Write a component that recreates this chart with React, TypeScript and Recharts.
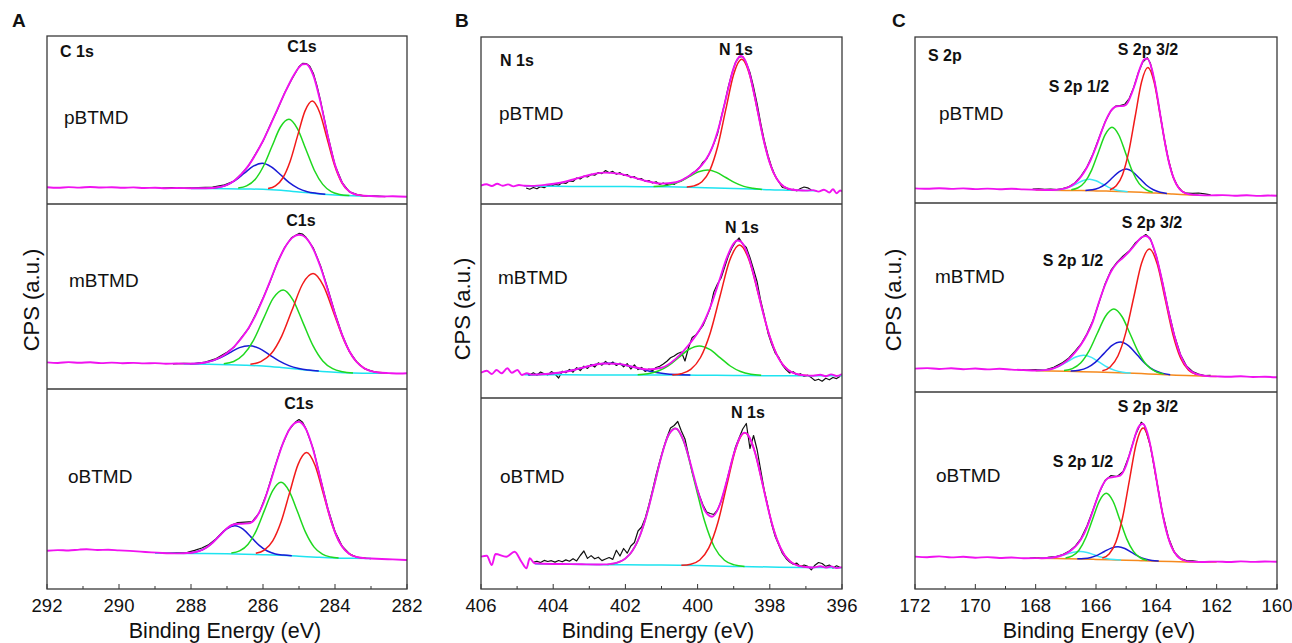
import React from 'react';
import { LineChart, Line, XAxis, YAxis } from 'recharts';

type Pt = [number, number];

const FONT = '"Liberation Sans", Arial, Helvetica, sans-serif';

// tick values of the three energy axes
const cTicks = [292, 291, 290, 289, 288, 287, 286, 285, 284, 283, 282];
const nTicks = [406, 405, 404, 403, 402, 401, 400, 399, 398, 397, 396];
const sTicks = [172, 171, 170, 169, 168, 167, 166, 165, 164, 163, 162, 161, 160];

// ---------- C 1s, pBTMD ----------
const cP_fit: Pt[] = [[292,16.8],[291.7,16.2],[291.4,16.9],[291.1,16.4],[290.8,17.0],[290.5,16.5],[290.2,16.8],[289.9,16.2],[289.6,16.6],[289.3,16.0],[289.0,16.3],[288.7,15.8],[288.4,16.0],[288.0,15.7],[287.6,15.7],[287.2,17.0],[287.0,19.2],[286.8,23.3],[286.6,29.8],[286.4,38.6],[286.2,49.9],[286.0,63.2],[285.8,78.4],[285.6,94.7],[285.4,110.6],[285.2,125.3],[285.0,136.7],[284.9,139.8],[284.8,139.9],[284.7,136.3],[284.6,128.4],[284.4,101.4],[284.2,67.9],[284.0,39.2],[283.8,21.1],[283.6,12.4],[283.4,9.3],[283.2,8.3],[283.0,8.0],[282.7,7.5],[282.4,7.8],[282,7.2]];
const cP_raw: Pt[] = [[288.8,16.0],[288.5,16.4],[288.2,15.9],[287.8,16.3],[287.4,16.8],[287.1,18.8],[286.8,23.0],[286.6,30.2],[286.4,38.2],[286.2,50.4],[286.0,62.8],[285.8,78.9],[285.6,94.2],[285.4,111.0],[285.2,124.8],[285.0,137.2],[284.9,140.6],[284.8,140.4],[284.7,137.8],[284.6,130.5],[284.5,118.0],[284.4,103.0],[284.2,68.6],[284.0,38.8],[283.8,21.4],[283.6,12.2],[283.4,9.6],[283.2,8.1],[283.0,8.2],[282.8,7.9],[282.6,7.4]];
const cP_bg: Pt[] = [[288.0,15.6],[287.5,15.5],[287.0,15.3],[286.5,15.0],[286.0,14.7],[285.5,13.7],[285.0,12.0],[284.5,10.3],[284.0,9.0],[283.5,8.3],[283.0,8.0]];
const cP_blue: Pt[] = [[287.52,15.8],[287.27,16.5],[287.02,18.8],[286.77,23.6],[286.52,30.8],[286.27,37.8],[286.02,40.7],[285.77,37.1],[285.52,29.5],[285.27,21.3],[285.02,15.6],[284.77,12.3],[284.52,10.7],[284.27,9.7]];
const cP_green: Pt[] = [[286.69,15.9],[286.455,18.1],[286.22,24.5],[285.985,38.0],[285.75,57.7],[285.515,77.0],[285.28,84.7],[285.045,75.4],[284.81,54.8],[284.575,33.8],[284.34,19.6],[284.105,12.4],[283.87,9.6],[283.6,8.5]];
const cP_red: Pt[] = [[285.86,15.4],[285.655,18.1],[285.45,26.0],[285.245,42.8],[285.04,68.1],[284.835,92.9],[284.63,103.0],[284.425,91.6],[284.22,65.5],[284.015,39.0],[283.81,21.2],[283.605,12.5],[283.4,9.2],[283.1,8.1]];

// ---------- C 1s, mBTMD ----------
const cM_fit: Pt[] = [[292,26.6],[291.7,26.0],[291.4,26.9],[291.1,26.2],[290.8,26.7],[290.5,25.9],[290.2,26.4],[289.9,25.8],[289.6,26.1],[289.3,25.6],[289.0,25.9],[288.7,25.3],[288.4,25.5],[288.0,25.3],[287.6,26.5],[287.2,31.5],[287.0,36.1],[286.8,42.4],[286.6,50.8],[286.4,61.0],[286.2,74.2],[286.0,90.3],[285.8,108.2],[285.6,126.1],[285.4,141.0],[285.2,150.9],[285.0,154.3],[284.9,153.5],[284.8,150.8],[284.6,139.6],[284.4,121.7],[284.2,98.9],[284.0,75.0],[283.8,53.9],[283.6,37.7],[283.4,27.0],[283.2,21.0],[283.0,17.9],[282.8,16.5],[282.5,15.9],[282.2,15.5],[282,15.7]];
const cM_raw: Pt[] = [[288.5,25.2],[288.2,25.6],[287.9,25.4],[287.6,26.9],[287.3,30.5],[287.0,36.8],[286.8,42.0],[286.6,51.5],[286.4,60.6],[286.2,75.0],[286.0,90.8],[285.8,107.6],[285.6,126.8],[285.4,141.5],[285.2,151.6],[285.0,155.6],[284.9,154.8],[284.8,151.5],[284.6,140.8],[284.4,123.0],[284.2,100.2],[284.0,75.8],[283.8,54.3],[283.6,37.3],[283.4,27.4],[283.2,20.6],[283.0,18.1],[282.8,16.2],[282.6,15.8]];
const cM_bg: Pt[] = [[288.2,25.0],[287.5,24.7],[287.0,24.3],[286.5,23.8],[286.0,23.0],[285.5,21.5],[285.0,19.7],[284.5,18.0],[284.0,16.7],[283.5,16.0],[283.0,15.8],[282.6,15.7]];
const cM_blue: Pt[] = [[288.03,25.2],[287.755,25.7],[287.48,27.4],[287.205,30.9],[286.93,36.1],[286.655,41.4],[286.38,43.3],[286.105,40.6],[285.83,34.4],[285.555,28.1],[285.28,23.4],[285.005,20.6],[284.73,19.0],[284.45,17.9]];
const cM_green: Pt[] = [[287.09,25.3],[286.815,27.5],[286.54,34.4],[286.265,48.6],[285.99,70.1],[285.715,90.8],[285.44,99.0],[285.165,88.9],[284.89,66.4],[284.615,43.6],[284.34,28.1],[284.065,20.3],[283.79,17.3],[283.5,16.1]];
const cM_red: Pt[] = [[286.35,24.7],[286.06,27.4],[285.77,35.4],[285.48,52.9],[285.19,79.2],[284.9,105.0],[284.61,115.4],[284.32,103.1],[284.03,75.6],[283.74,47.9],[283.45,29.1],[283.16,20.2],[282.87,16.9],[282.6,15.9]];

// ---------- C 1s, oBTMD ----------
const cO_fit: Pt[] = [[292,38.3],[291.7,38.9],[291.4,38.5],[291.1,39.4],[290.9,39.7],[290.6,39.0],[290.3,39.3],[290.0,38.6],[289.7,38.1],[289.4,37.4],[289.1,36.6],[288.8,36.0],[288.4,35.6],[288.0,36.2],[287.8,37.6],[287.6,40.8],[287.4,46.3],[287.2,53.6],[287.0,60.7],[286.8,64.7],[286.6,65.3],[286.4,65.6],[286.2,70.9],[286.0,84.8],[285.8,106.0],[285.6,129.5],[285.4,149.8],[285.2,163.2],[285.0,167.3],[284.9,165.0],[284.8,159.3],[284.6,138.6],[284.4,109.5],[284.2,80.0],[284.0,56.7],[283.8,42.2],[283.6,35.0],[283.4,32.0],[283.2,30.9],[283.0,30.5],[282.7,30.0],[282.4,29.6],[282,29.0]];
const cO_raw: Pt[] = [[289.0,36.4],[288.7,35.9],[288.4,36.3],[288.1,36.6],[287.9,38.6],[287.7,41.0],[287.5,44.5],[287.3,50.4],[287.1,57.8],[286.9,63.4],[286.7,66.4],[286.5,66.8],[286.3,67.3],[286.1,76.5],[285.9,95.4],[285.7,118.8],[285.5,141.0],[285.3,157.8],[285.1,167.0],[285.0,169.5],[284.9,166.8],[284.8,159.8],[284.6,139.6],[284.4,110.2],[284.2,80.8],[284.0,57.5],[283.8,42.8],[283.6,35.3],[283.4,31.7],[283.2,31.0],[283.0,30.4]];
const cO_bg: Pt[] = [[289.0,35.8],[288.0,35.5],[287.0,35.2],[286.5,34.8],[286.0,34.3],[285.5,33.7],[285.0,32.8],[284.5,31.8],[284.0,31.0],[283.5,30.7],[283.0,30.5]];
const cO_blue: Pt[] = [[288.13,35.8],[287.905,36.7],[287.68,39.2],[287.455,44.5],[287.23,52.3],[287.005,60.2],[286.78,63.3],[286.555,59.9],[286.33,51.9],[286.105,43.6],[285.88,38.0],[285.655,35.1],[285.43,33.9],[285.2,33.2]];
const cO_green: Pt[] = [[286.88,35.9],[286.65,38.1],[286.42,44.6],[286.19,58.2],[285.96,78.6],[285.73,98.4],[285.5,106.7],[285.27,97.7],[285.04,77.2],[284.81,56.1],[284.58,41.9],[284.35,34.8],[284.12,32.0],[283.9,31.1]];
const cO_red: Pt[] = [[286.2,35.7],[285.965,38.8],[285.73,48.1],[285.495,67.5],[285.26,96.4],[285.025,124.6],[284.79,136.4],[284.555,123.7],[284.32,94.6],[284.085,65.0],[283.85,45.0],[283.615,35.4],[283.38,31.9],[283.15,30.8]];

// ---------- N 1s, pBTMD ----------
const nP_fit: Pt[] = [[406,18.5],[405.85,19.8],[405.7,18.0],[405.55,20.2],[405.4,18.3],[405.25,19.6],[405.1,17.6],[404.95,19.0],[404.8,18.2],[404.6,18.1],[404.2,19.2],[403.8,21.3],[403.4,25.0],[403.0,29.0],[402.6,31.35],[402.2,30.4],[401.8,26.85],[401.4,22.8],[401.0,20.35],[400.6,21.75],[400.2,28.95],[400.0,34.5],[399.8,42.7],[399.6,56.1],[399.4,78.2],[399.2,108.1],[399.0,136.1],[398.9,144.65],[398.8,148.0],[398.7,144.7],[398.6,135.6],[398.4,104.4],[398.2,68.8],[398.0,41.0],[397.8,24.7],[397.6,17.2],[397.4,14.45],[397.2,13.7],[397.0,13.4],[396.8,13.9],[396.65,12.4],[396.5,14.3],[396.35,11.5],[396.25,14.8],[396.15,10.8],[396.05,13.5],[396,12.6]];
const nP_raw: Pt[] = [[404.75,16.0],[404.65,14.8],[404.55,16.5],[404.45,15.2],[404.35,17.4],[404.25,16.3],[404.15,18.6],[404.05,17.9],[403.95,19.6],[403.85,18.8],[403.75,21.4],[403.65,20.6],[403.55,23.2],[403.45,22.5],[403.35,26.0],[403.25,25.1],[403.15,27.8],[403.05,27.0],[402.95,29.6],[402.85,28.8],[402.75,31.5],[402.65,30.4],[402.55,33.5],[402.45,31.2],[402.35,32.6],[402.25,29.8],[402.15,31.4],[402.05,28.6],[401.95,29.5],[401.85,26.4],[401.75,27.3],[401.65,24.8],[401.55,25.4],[401.45,22.6],[401.35,23.5],[401.25,21.0],[401.15,22.3],[401.05,19.6],[400.95,21.0],[400.85,19.2],[400.75,20.8],[400.65,19.5],[400.55,22.4],[400.45,23.0],[400.35,25.6],[400.25,27.3],[400.15,30.8],[400.05,33.0],[399.95,36.5],[399.85,41.8],[399.75,45.0],[399.65,52.0],[399.55,60.4],[399.45,70.0],[399.35,86.0],[399.25,100.5],[399.15,117.0],[399.05,130.5],[398.95,141.5],[398.85,146.8],[398.75,147.5],[398.65,141.0],[398.55,131.5],[398.45,117.0],[398.35,100.0],[398.25,80.5],[398.15,63.0],[398.05,48.5],[397.95,37.0],[397.85,28.0],[397.75,22.0],[397.65,16.5],[397.55,15.8],[397.45,13.6],[397.35,14.8],[397.25,13.2],[397.15,15.5],[397.05,17.0],[396.95,16.2],[396.85,14.0]];
const nP_bg: Pt[] = [[404.8,17.7],[404.0,17.7],[403.0,17.5],[402.0,17.4],[401.0,17.3],[400.5,17.1],[400.0,16.6],[399.5,16.0],[399.0,15.6],[398.5,15.0],[398.0,14.2],[397.5,13.8],[397.0,13.4],[396.7,13.3]];
const nP_green: Pt[] = [[401.22,17.5],[400.97,18.0],[400.72,19.6],[400.47,22.8],[400.22,27.6],[399.97,32.2],[399.72,34.0],[399.47,31.6],[399.22,26.5],[398.97,21.3],[398.72,17.6],[398.47,15.8],[398.22,14.6]];
const nP_red: Pt[] = [[400.3,17.0],[400.1,18.1],[399.88,22.2],[399.66,33.8],[399.44,58.0],[399.22,94.3],[399.0,129.8],[398.78,144.7],[398.56,129.3],[398.34,93.1],[398.12,56.2],[397.9,31.2],[397.68,19.3],[397.46,14.9],[397.25,13.6]];

// ---------- N 1s, mBTMD ----------
const nM_fit: Pt[] = [[406,25.3],[405.84,27.3],[405.7,24.0],[405.57,28.0],[405.43,24.7],[405.27,29.7],[405.15,25.3],[404.99,28.0],[404.87,23.0],[404.73,24.7],[404.6,23.4],[404.2,23.95],[403.8,25.45],[403.4,28.3],[403.0,32.0],[402.6,34.55],[402.2,34.15],[401.8,31.25],[401.4,28.6],[401.0,30.2],[400.6,39.4],[400.2,55.25],[400.0,65.0],[399.8,77.95],[399.6,95.5],[399.4,117.2],[399.2,139.35],[399.0,154.7],[398.9,157.55],[398.8,156.35],[398.6,142.4],[398.4,116.75],[398.2,87.2],[398.0,61.2],[397.8,42.7],[397.6,31.55],[397.4,25.95],[397.2,23.5],[397.0,22.6],[396.8,22.3],[396.6,23.2],[396.45,21.8],[396.3,23.6],[396.15,22.0],[396,24.0]];
const nM_raw: Pt[] = [[404.75,24.2],[404.65,23.0],[404.55,25.2],[404.45,22.8],[404.35,26.0],[404.25,24.3],[404.15,23.1],[404.05,26.4],[403.95,24.0],[403.85,20.0],[403.75,26.8],[403.65,25.3],[403.55,28.6],[403.45,25.8],[403.35,30.4],[403.25,27.5],[403.15,31.8],[403.05,29.6],[402.95,33.5],[402.85,31.0],[402.75,35.2],[402.65,32.8],[402.55,36.6],[402.45,33.4],[402.35,36.0],[402.25,32.5],[402.15,34.8],[402.05,31.2],[401.95,34.4],[401.85,29.0],[401.75,33.2],[401.65,28.4],[401.55,30.6],[401.45,26.5],[401.35,29.0],[401.25,27.2],[401.15,30.5],[401.05,31.8],[400.95,34.0],[400.85,36.8],[400.75,40.2],[400.65,42.0],[400.55,44.5],[400.45,46.0],[400.35,37.0],[400.25,50.5],[400.15,60.5],[400.05,63.0],[399.95,67.5],[399.85,72.5],[399.75,81.0],[399.65,90.0],[399.55,106.0],[399.45,114.0],[399.35,120.0],[399.25,131.0],[399.15,142.0],[399.05,150.0],[398.95,156.0],[398.85,160.0],[398.75,154.0],[398.65,150.5],[398.55,140.5],[398.45,128.5],[398.35,116.0],[398.25,97.0],[398.15,82.0],[398.05,65.0],[397.95,54.0],[397.85,45.0],[397.75,40.5],[397.65,33.0],[397.55,28.5],[397.45,25.0],[397.35,26.2],[397.25,23.0],[397.15,24.3],[397.05,21.6],[396.95,22.8],[396.85,20.4],[396.75,17.5],[396.65,18.8],[396.55,16.8],[396.45,19.8],[396.35,18.2],[396.25,20.5],[396.15,19.4],[396.05,21.8]];
const nM_bg: Pt[] = [[404.8,23.2],[403.0,23.1],[401.0,23.0],[400.0,22.8],[399.0,22.5],[398.0,22.3],[397.0,22.2],[396.0,22.2]];
const nM_blue: Pt[] = [[404.7,23.3],[404.325,23.65],[403.95,24.75],[403.575,26.9],[403.2,30.2],[402.825,33.4],[402.45,34.8],[402.075,33.35],[401.7,30.15],[401.325,26.8],[400.95,24.6],[400.575,23.4],[400.2,22.95]];
const nM_green: Pt[] = [[401.66,23.35],[401.375,24.3],[401.09,27.0],[400.805,32.45],[400.52,40.7],[400.235,48.75],[399.95,52.1],[399.665,48.6],[399.38,40.4],[399.095,32.0],[398.81,26.45],[398.525,23.7],[398.24,22.65]];
const nM_red: Pt[] = [[400.7,23.0],[400.46,24.3],[400.19,28.55],[399.92,40.5],[399.65,65.1],[399.38,101.7],[399.11,137.7],[398.84,152.95],[398.57,137.6],[398.3,101.45],[398.03,64.7],[397.76,40.0],[397.49,27.95],[397.22,23.6],[396.95,22.4]];

// ---------- N 1s, oBTMD ----------
const nO_fit: Pt[] = [[406,32.3],[405.84,33.3],[405.7,24.0],[405.6,35.0],[405.3,32.3],[405.07,37.3],[404.88,27.3],[404.74,20.7],[404.65,30.7],[404.52,25.7],[404.3,25.2],[403.8,25.0],[403.2,24.7],[402.8,24.55],[402.6,24.6],[402.4,25.15],[402.2,26.6],[402.0,30.4],[401.8,38.45],[401.6,53.0],[401.4,75.4],[401.2,104.05],[401.0,133.1],[400.8,154.4],[400.6,160.5],[400.4,149.5],[400.2,125.8],[400.0,98.8],[399.8,78.5],[399.6,72.3],[399.4,82.9],[399.2,106.95],[399.0,134.7],[398.8,153.55],[398.7,156.4],[398.6,153.9],[398.4,135.3],[398.2,104.9],[398.0,73.6],[397.8,49.3],[397.6,34.25],[397.4,26.55],[397.2,23.2],[397.0,22.0],[396.8,21.5],[396.6,22.8],[396.45,21.4],[396.3,22.6],[396.15,20.9],[396,21.9]];
const nO_raw: Pt[] = [[404.55,26.6],[404.45,27.8],[404.35,26.4],[404.25,28.6],[404.15,27.5],[404.05,28.3],[403.95,26.9],[403.85,28.5],[403.75,27.2],[403.65,29.1],[403.55,27.8],[403.45,30.3],[403.35,28.1],[403.25,33.5],[403.15,38.0],[403.05,30.6],[402.95,33.4],[402.85,30.2],[402.75,31.8],[402.65,28.4],[402.55,30.0],[402.45,31.5],[402.35,29.6],[402.25,38.8],[402.15,33.0],[402.05,40.5],[401.95,35.8],[401.85,43.0],[401.75,46.5],[401.65,58.0],[401.55,62.0],[401.45,71.0],[401.35,84.0],[401.25,98.5],[401.15,114.0],[401.05,127.5],[400.95,140.0],[400.85,151.5],[400.75,161.0],[400.65,163.5],[400.55,167.5],[400.45,158.0],[400.35,150.0],[400.25,133.5],[400.15,117.0],[400.05,104.5],[399.95,93.5],[399.85,84.0],[399.75,77.0],[399.65,75.5],[399.55,74.5],[399.45,79.0],[399.35,87.5],[399.25,99.5],[399.15,114.0],[399.05,128.0],[398.95,142.0],[398.85,151.0],[398.75,160.0],[398.65,165.5],[398.55,140.5],[398.45,153.5],[398.35,139.0],[398.25,118.5],[398.15,98.0],[398.05,82.0],[397.95,65.0],[397.85,52.5],[397.75,44.0],[397.65,35.5],[397.55,30.5],[397.45,27.0],[397.35,24.8],[397.25,25.8],[397.15,22.3],[397.05,24.0],[396.95,22.6],[396.85,19.2],[396.75,23.8],[396.65,26.5],[396.55,25.5],[396.45,22.6],[396.35,24.0],[396.25,21.0],[396.15,23.2],[396.05,21.5]];
const nO_bg: Pt[] = [[404.5,25.0],[404.0,24.8],[403.0,24.5],[402.0,24.2],[401.0,23.9],[400.0,23.4],[399.0,22.6],[398.0,22.0],[397.0,21.6],[396.0,21.3]];
const nO_green: Pt[] = [[402.5,24.4],[402.28,25.8],[402.005,30.2],[401.73,42.6],[401.455,68.55],[401.18,107.05],[400.905,144.75],[400.63,160.7],[400.355,144.45],[400.08,106.55],[399.805,67.75],[399.53,41.5],[399.255,28.8],[398.98,24.1],[398.7,22.6]];
const nO_red: Pt[] = [[400.45,23.7],[400.19,24.85],[399.94,29.05],[399.69,41.1],[399.44,66.3],[399.19,103.85],[398.94,140.6],[398.69,156.15],[398.44,140.3],[398.19,103.2],[397.94,65.4],[397.69,39.95],[397.44,27.7],[397.19,23.2],[396.95,21.9]];

// ---------- S 2p, pBTMD ----------
const sP_fit: Pt[] = [[172,14.6],[171.6,14.2],[171.2,14.8],[170.8,14.1],[170.4,14.6],[170.0,13.9],[169.6,14.4],[169.2,13.8],[168.8,14.2],[168.4,13.6],[168.0,13.3],[167.6,13.0],[167.3,13.2],[167.0,14.8],[166.8,17.6],[166.6,22.65],[166.4,30.55],[166.2,41.5],[166.0,56.1],[165.8,72.9],[165.6,87.35],[165.45,94.25],[165.3,96.8],[165.15,96.9],[165.0,98.4],[164.85,107.0],[164.7,119.65],[164.55,134.05],[164.4,143.7],[164.3,144.35],[164.15,134.15],[164.0,112.3],[163.85,84.6],[163.7,58.0],[163.55,36.7],[163.4,22.8],[163.25,14.7],[163.1,10.7],[162.9,8.7],[162.6,7.85],[162.2,7.6],[161.8,7.9],[161.4,7.3],[161.0,7.7],[160.6,7.1],[160.3,7.5],[160,7.2]];
const sP_raw: Pt[] = [[168.1,13.8],[167.9,14.2],[167.7,13.6],[167.5,13.9],[167.3,13.5],[167.1,14.4],[166.9,16.2],[166.7,20.0],[166.5,26.8],[166.3,36.0],[166.1,49.0],[165.9,65.0],[165.7,81.0],[165.5,92.5],[165.35,96.8],[165.2,97.5],[165.05,98.6],[164.9,104.5],[164.75,115.5],[164.6,130.0],[164.45,141.0],[164.3,145.3],[164.2,140.0],[164.05,120.5],[163.9,94.0],[163.75,66.5],[163.6,43.5],[163.45,26.5],[163.3,17.0],[163.15,11.8],[163.0,9.8],[162.8,9.6],[162.6,10.0],[162.4,9.2],[162.2,8.1]];
const sP_bg: Pt[] = [[168.0,13.0],[167.0,12.6],[166.5,12.4],[166.0,12.1],[165.5,11.8],[165.0,11.3],[164.5,10.7],[164.0,10.0],[163.5,9.0],[163.0,8.2],[162.6,7.9]];
const sP_cyan: Pt[] = [[167.47,12.9],[167.26,13.2],[167.05,14.2],[166.84,16.35],[166.63,19.45],[166.42,22.55],[166.21,23.85],[166.0,22.3],[165.79,19.0],[165.58,15.65],[165.37,13.3],[165.16,12.0],[164.95,11.35]];
const sP_blue: Pt[] = [[166.35,12.6],[166.125,13.2],[165.9,15.15],[165.675,19.2],[165.45,25.45],[165.225,31.45],[165.0,33.9],[164.775,30.9],[164.55,24.45],[164.325,17.75],[164.1,13.25],[163.875,10.75],[163.65,9.6]];
const sP_green: Pt[] = [[166.82,13.25],[166.595,15.25],[166.37,20.9],[166.145,32.9],[165.92,50.85],[165.695,68.3],[165.47,75.7],[165.245,68.0],[165.02,50.1],[164.795,31.75],[164.57,19.4],[164.345,13.3],[164.12,10.85]];
const sP_red: Pt[] = [[165.54,13.25],[165.33,17.15],[165.12,28.35],[164.91,51.8],[164.7,86.75],[164.49,121.0],[164.28,135.4],[164.07,120.4],[163.86,85.5],[163.65,49.9],[163.44,25.8],[163.23,14.05],[163.02,9.6]];

// ---------- S 2p, mBTMD ----------
const sM_fit: Pt[] = [[172,23.4],[171.6,23.9],[171.2,23.0],[170.8,23.7],[170.4,22.8],[170.0,23.5],[169.6,22.6],[169.2,23.2],[168.8,22.4],[168.4,21.9],[168.0,21.5],[167.7,21.9],[167.4,23.7],[167.1,28.25],[166.9,33.05],[166.7,39.35],[166.5,47.25],[166.3,57.45],[166.1,70.7],[165.9,90.0],[165.7,107.0],[165.5,120.5],[165.3,129.0],[165.1,134.5],[164.9,140.5],[164.7,147.5],[164.5,154.5],[164.35,156.0],[164.2,152.5],[164.0,135.5],[163.8,110.0],[163.6,81.0],[163.4,56.0],[163.2,37.0],[163.0,25.5],[162.8,19.8],[162.6,17.3],[162.3,15.9],[162.0,15.6],[161.6,15.3],[161.2,15.7],[160.8,15.0],[160.4,15.2],[160,14.7]];
const sM_raw: Pt[] = [[168.6,22.3],[168.3,21.8],[168.0,22.4],[167.7,22.0],[167.4,24.6],[167.1,29.5],[166.9,34.0],[166.7,40.5],[166.5,47.8],[166.3,58.2],[166.1,71.5],[165.9,89.5],[165.7,108.0],[165.5,121.8],[165.3,129.8],[165.1,136.0],[164.9,141.0],[164.7,149.0],[164.5,154.0],[164.35,157.5],[164.2,153.5],[164.0,136.0],[163.8,110.5],[163.6,81.8],[163.4,56.5],[163.2,37.5],[163.0,26.0],[162.8,20.5],[162.6,18.0],[162.4,16.4],[162.2,16.6]];
const sM_bg: Pt[] = [[168.0,21.3],[167.0,20.7],[166.5,20.3],[166.0,19.9],[165.5,19.5],[165.0,19.0],[164.5,18.4],[164.0,17.7],[163.5,17.0],[163.0,16.4],[162.5,16.0],[162.0,15.6]];
const sM_cyan: Pt[] = [[167.97,21.5],[167.71,21.8],[167.45,23.15],[167.19,26.2],[166.93,30.65],[166.67,35.05],[166.41,36.75],[166.15,34.6],[165.89,29.8],[165.63,25.0],[165.37,21.6],[165.11,19.8],[164.85,19.0]];
const sM_blue: Pt[] = [[166.84,20.9],[166.565,21.75],[166.29,24.35],[166.015,29.9],[165.74,38.4],[165.465,46.65],[165.19,50.0],[164.915,46.1],[164.64,37.25],[164.365,28.2],[164.09,22.0],[163.815,18.85],[163.54,17.35]];
const sM_green: Pt[] = [[167.06,21.4],[166.785,23.35],[166.51,28.9],[166.235,40.8],[165.96,58.45],[165.685,75.75],[165.41,83.0],[165.135,75.25],[164.86,57.45],[164.585,39.2],[164.31,26.7],[164.035,20.55],[163.76,18.05]];
const sM_red: Pt[] = [[165.79,21.15],[165.53,25.0],[165.27,36.2],[165.01,59.6],[164.75,94.5],[164.49,128.7],[164.23,143.0],[163.97,127.95],[163.71,93.1],[163.45,57.55],[163.19,33.5],[162.93,21.85],[162.67,17.55]];

// ---------- S 2p, oBTMD ----------
const sO_fit: Pt[] = [[172,32.4],[171.6,31.8],[171.2,32.6],[170.8,31.6],[170.4,32.2],[170.0,31.3],[169.6,31.9],[169.2,31.0],[168.8,31.5],[168.4,30.8],[168.0,30.9],[167.8,30.75],[167.5,31.2],[167.2,33.0],[167.0,35.4],[166.8,39.2],[166.6,45.25],[166.4,55.0],[166.2,69.65],[166.0,87.3],[165.8,102.85],[165.6,110.95],[165.4,112.1],[165.2,113.4],[165.0,123.7],[164.8,143.3],[164.6,161.6],[164.45,165.25],[164.3,156.5],[164.1,128.2],[163.9,92.4],[163.7,61.95],[163.5,42.4],[163.3,32.7],[163.1,28.75],[162.9,27.35],[162.5,27.0],[162.0,27.4],[161.6,27.0],[161.2,27.6],[160.8,27.1],[160.4,27.5],[160,27.2]];
const sO_raw: Pt[] = [[168.2,30.8],[167.9,31.3],[167.6,31.6],[167.3,32.6],[167.1,34.5],[166.9,37.6],[166.7,42.5],[166.5,50.5],[166.3,63.0],[166.1,79.0],[165.9,96.0],[165.7,108.5],[165.5,113.5],[165.3,112.5],[165.1,117.5],[164.9,133.5],[164.7,153.5],[164.5,166.8],[164.4,164.0],[164.2,143.5],[164.0,110.0],[163.8,76.5],[163.6,51.5],[163.4,36.5],[163.2,30.5],[163.0,28.5],[162.8,28.2],[162.6,27.4]];
const sO_bg: Pt[] = [[168.0,30.8],[167.0,30.3],[166.5,30.0],[166.0,29.6],[165.5,29.2],[165.0,28.8],[164.5,28.3],[164.0,27.8],[163.5,27.4],[163.0,27.1],[162.5,27.0],[162.0,27.0]];
const sO_cyan: Pt[] = [[167.87,30.8],[167.645,30.9],[167.42,31.5],[167.195,32.9],[166.97,34.85],[166.745,36.85],[166.52,37.6],[166.295,36.55],[166.07,34.25],[165.845,32.0],[165.62,30.3],[165.395,29.4],[165.17,29.05]];
const sO_blue: Pt[] = [[166.62,30.25],[166.395,30.5],[166.17,31.55],[165.945,33.85],[165.72,37.5],[165.495,40.9],[165.27,42.3],[165.045,40.55],[164.82,36.7],[164.595,32.7],[164.37,30.0],[164.145,28.55],[163.92,27.9]];
const sO_green: Pt[] = [[167.01,31.0],[166.785,33.05],[166.56,39.0],[166.335,51.45],[166.11,70.0],[165.885,88.15],[165.66,95.7],[165.435,87.75],[165.21,69.25],[164.985,50.4],[164.76,37.6],[164.535,31.25],[164.31,28.8]];
const sO_red: Pt[] = [[165.79,30.95],[165.565,35.05],[165.34,47.05],[165.115,72.0],[164.89,109.2],[164.665,145.55],[164.44,160.95],[164.215,145.1],[163.99,108.3],[163.765,70.7],[163.54,45.45],[163.315,33.1],[163.09,28.65]];

const COL = {
  raw: '#111111',
  fit: '#f012f0',
  red: '#f21a1a',
  green: '#1fd81f',
  blue: '#1a1ad6',
  bg: '#1ee3f0',
  cyan: '#3fe6f6',
  orange: '#f58a1e',
};

type Series = { pts: Pt[]; color: string; width: number; curve?: 'monotone' | 'linear' };

function EnergyTick(props: any) {
  const { x, y, payload } = props;
  const v = payload.value;
  const major = v % 2 === 0;
  return (
    <g>
      <line x1={x} x2={x} y1={y} y2={y - (major ? 5 : 3)} stroke="#333" strokeWidth={1} />
      {major && (
        <text x={x} y={y + 22.5} textAnchor="middle" fontSize={18.5} fontFamily={FONT} fill="#111">
          {v}
        </text>
      )}
    </g>
  );
}

// side room so the end tick labels are not cut by the svg edge
const PAD = 24;

function Spectrum({ left, top, width, height, domain, series, ticks }: {
  left: number; top: number; width: number; height: number;
  domain: [number, number]; series: Series[]; ticks?: number[];
}) {
  const axisH = ticks ? 50 : 0;
  return (
    <div style={{ position: 'absolute', left: left - PAD, top }}>
      <LineChart width={width + 2 * PAD} height={height + axisH} margin={{ top: 0, right: PAD, bottom: 0, left: PAD }}>
        <XAxis
          type="number"
          dataKey="e"
          domain={domain}
          reversed
          allowDataOverflow
          hide={!ticks}
          ticks={ticks}
          interval={0}
          height={axisH || 30}
          tickSize={0}
          tickMargin={0}
          axisLine={false}
          tickLine={false}
          tick={(p: any) => <EnergyTick {...p} />}
        />
        <YAxis type="number" domain={[0, height]} hide allowDataOverflow />
        {series.map((s, i) => (
          <Line
            key={i}
            data={s.pts.map(([e, v]) => ({ e, v }))}
            dataKey="v"
            type={s.curve || 'monotone'}
            stroke={s.color}
            strokeWidth={s.width}
            strokeLinejoin="round"
            dot={false}
            activeDot={false}
            isAnimationActive={false}
          />
        ))}
      </LineChart>
    </div>
  );
}

const rawS = (pts: Pt[]): Series => ({ pts, color: COL.raw, width: 1.2, curve: 'linear' });
const fitS = (pts: Pt[]): Series => ({ pts, color: COL.fit, width: 1.9 });
const lineS = (pts: Pt[], color: string): Series => ({ pts, color, width: 1.5 });

const Txt = ({ x, y, children, size = 16, bold = true, anchor = 'start' }: any) => (
  <text x={x} y={y} fontSize={size} fontWeight={bold ? 'bold' : 'normal'} fontFamily={FONT} fill="#111" textAnchor={anchor}>
    {children}
  </text>
);

export default function App() {
  const cDom: [number, number] = [282, 292];
  const nDom: [number, number] = [396, 406];
  const sDom: [number, number] = [160, 172];
  return (
    <div style={{ position: 'absolute', left: 0, top: 0, width: 1292, height: 643, background: '#fff', overflow: 'hidden' }}>
      {/* C 1s */}
      <Spectrum left={47} top={36} width={360} height={168} domain={cDom}
        series={[rawS(cP_raw), lineS(cP_bg, COL.bg), lineS(cP_blue, COL.blue), lineS(cP_green, COL.green), lineS(cP_red, COL.red), fitS(cP_fit)]} />
      <Spectrum left={47} top={204} width={360} height={185} domain={cDom}
        series={[rawS(cM_raw), lineS(cM_bg, COL.bg), lineS(cM_blue, COL.blue), lineS(cM_green, COL.green), lineS(cM_red, COL.red), fitS(cM_fit)]} />
      <Spectrum left={47} top={389} width={360} height={200} domain={cDom} ticks={cTicks}
        series={[rawS(cO_raw), lineS(cO_bg, COL.bg), lineS(cO_blue, COL.blue), lineS(cO_green, COL.green), lineS(cO_red, COL.red), fitS(cO_fit)]} />

      {/* N 1s */}
      <Spectrum left={481} top={37} width={361} height={167} domain={nDom}
        series={[rawS(nP_raw), lineS(nP_bg, COL.bg), lineS(nP_green, COL.green), lineS(nP_red, COL.red), fitS(nP_fit)]} />
      <Spectrum left={481} top={204} width={361} height={194} domain={nDom}
        series={[rawS(nM_raw), lineS(nM_bg, COL.bg), lineS(nM_blue, COL.blue), lineS(nM_green, COL.green), lineS(nM_red, COL.red), fitS(nM_fit)]} />
      <Spectrum left={481} top={398} width={361} height={191} domain={nDom} ticks={nTicks}
        series={[rawS(nO_raw), lineS(nO_bg, COL.bg), lineS(nO_green, COL.green), lineS(nO_red, COL.red), fitS(nO_fit)]} />

      {/* S 2p */}
      <Spectrum left={915} top={37} width={362} height={166} domain={sDom}
        series={[rawS(sP_raw), lineS(sP_bg, COL.orange), lineS(sP_cyan, COL.cyan), lineS(sP_blue, COL.blue), lineS(sP_green, COL.green), lineS(sP_red, COL.red), fitS(sP_fit)]} />
      <Spectrum left={915} top={203} width={362} height={189} domain={sDom}
        series={[rawS(sM_raw), lineS(sM_bg, COL.orange), lineS(sM_cyan, COL.cyan), lineS(sM_blue, COL.blue), lineS(sM_green, COL.green), lineS(sM_red, COL.red), fitS(sM_fit)]} />
      <Spectrum left={915} top={392} width={362} height={197} domain={sDom} ticks={sTicks}
        series={[rawS(sO_raw), lineS(sO_bg, COL.orange), lineS(sO_cyan, COL.cyan), lineS(sO_blue, COL.blue), lineS(sO_green, COL.green), lineS(sO_red, COL.red), fitS(sO_fit)]} />

      <svg width={1292} height={643} style={{ position: 'absolute', left: 0, top: 0, pointerEvents: 'none' }}>
        <g fill="none" stroke="#3a3a3a" strokeWidth={1.3}>
          <rect x={47} y={36} width={360} height={553} />
          <line x1={47} x2={407} y1={204} y2={204} />
          <line x1={47} x2={407} y1={389} y2={389} />
          <rect x={481} y={37} width={361} height={552} />
          <line x1={481} x2={842} y1={204} y2={204} />
          <line x1={481} x2={842} y1={398} y2={398} />
          <rect x={915} y={37} width={362} height={552} />
          <line x1={915} x2={1277} y1={203} y2={203} />
          <line x1={915} x2={1277} y1={392} y2={392} />
        </g>

        <Txt x={12} y={27} size={19}>A</Txt>
        <Txt x={455} y={27} size={19}>B</Txt>
        <Txt x={892} y={27} size={19}>C</Txt>

        <Txt x={60} y={57}>C 1s</Txt>
        <Txt x={302} y={52} anchor="middle">C1s</Txt>
        <Txt x={301} y={225.5} anchor="middle">C1s</Txt>
        <Txt x={299} y={409} anchor="middle">C1s</Txt>
        <Txt x={64} y={124} size={19} bold={false}>pBTMD</Txt>
        <Txt x={69} y={287} size={19} bold={false}>mBTMD</Txt>
        <Txt x={68} y={483} size={19} bold={false}>oBTMD</Txt>

        <Txt x={500} y={65.5}>N 1s</Txt>
        <Txt x={736} y={55} anchor="middle">N 1s</Txt>
        <Txt x={742} y={232.5} anchor="middle">N 1s</Txt>
        <Txt x={748} y={418} anchor="middle">N 1s</Txt>
        <Txt x={499} y={120} size={19} bold={false}>pBTMD</Txt>
        <Txt x={498} y={284} size={19} bold={false}>mBTMD</Txt>
        <Txt x={500} y={483} size={19} bold={false}>oBTMD</Txt>

        <Txt x={928} y={60.5}>S 2p</Txt>
        <Txt x={1148} y={54.5} anchor="middle">S 2p 3/2</Txt>
        <Txt x={1079} y={92} anchor="middle">S 2p 1/2</Txt>
        <Txt x={1152} y={227.5} anchor="middle">S 2p 3/2</Txt>
        <Txt x={1073} y={266} anchor="middle">S 2p 1/2</Txt>
        <Txt x={1148} y={411.5} anchor="middle">S 2p 3/2</Txt>
        <Txt x={1083} y={467} anchor="middle">S 2p 1/2</Txt>
        <Txt x={939} y={120} size={19} bold={false}>pBTMD</Txt>
        <Txt x={935} y={283} size={19} bold={false}>mBTMD</Txt>
        <Txt x={936} y={482} size={19} bold={false}>oBTMD</Txt>

        <text transform="rotate(-90 38.5 300)" x={38.5} y={300} fontSize={22} fontFamily={FONT} fill="#111" textAnchor="middle">CPS (a.u.)</text>
        <text transform="rotate(-90 469.5 309)" x={469.5} y={309} fontSize={22} fontFamily={FONT} fill="#111" textAnchor="middle">CPS (a.u.)</text>
        <text transform="rotate(-90 900.5 300)" x={900.5} y={300} fontSize={22} fontFamily={FONT} fill="#111" textAnchor="middle">CPS (a.u.)</text>

        <text x={225} y={637.5} fontSize={21.5} fontFamily={FONT} fill="#111" textAnchor="middle">Binding Energy (eV)</text>
        <text x={658} y={637.5} fontSize={21.5} fontFamily={FONT} fill="#111" textAnchor="middle">Binding Energy (eV)</text>
        <text x={1099} y={637.5} fontSize={21.5} fontFamily={FONT} fill="#111" textAnchor="middle">Binding Energy (eV)</text>
      </svg>
    </div>
  );
}
